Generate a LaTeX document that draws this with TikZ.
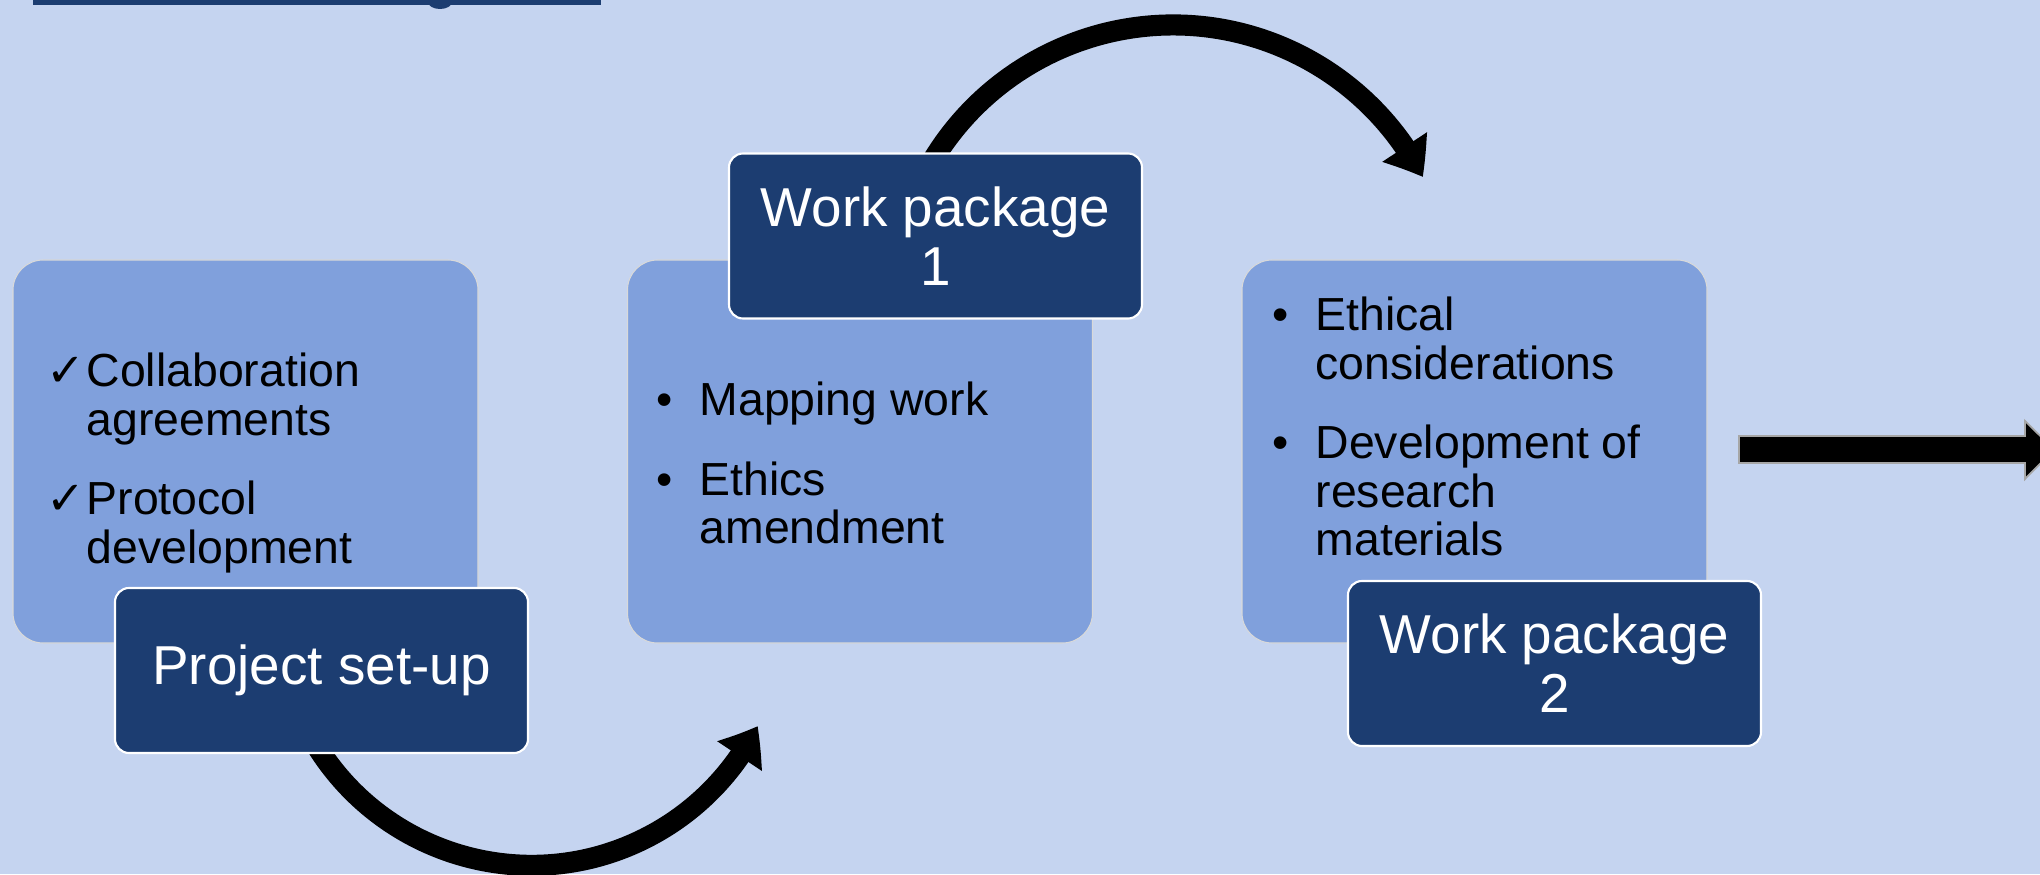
\documentclass[tikz,border=0pt]{standalone}
\usepackage{fontspec}
\setmainfont{Liberation Sans}
\newfontfamily\checkfont{DejaVu Sans}
\usetikzlibrary{arrows.meta,bending}
\definecolor{fondclair}{RGB}{197,212,240}
\definecolor{boiteclaire}{RGB}{128,160,220}
\definecolor{boitefoncee}{RGB}{28,61,113}
\tikzset{
  lightbox/.style={draw=black!15, line width=0.3pt, fill=boiteclaire,
    rounded corners=0.3cm, minimum width=4.65cm, minimum height=3.83cm},
  darkbox/.style={draw=white, line width=0.6pt, fill=boitefoncee,
    rounded corners=0.14cm, minimum width=4.13cm, minimum height=1.65cm,
    text=white, align=center, font=\fontsize{15.6}{16.8}\selectfont},
  itemtext/.style={anchor=base west, inner sep=0pt, font=\fontsize{13.2}{13.7}\selectfont},
  flowarc/.style={line width=6pt, -{Triangle[width=14.6pt,length=10pt,bend]}},
}
\begin{document}
\begin{tikzpicture}  % ------ Phases du projet -----------
\useasboundingbox (0,0) rectangle (20.40,8.74);
    \fill[fondclair] (0,0) rectangle (20.40,8.74);
    \fill[boitefoncee] (0.33,8.69) rectangle (6.01,8.80);  % bandeau du titre
    \fill[boitefoncee] (4.40,8.72) ellipse [x radius=0.12, y radius=0.07];
    % grandes boites
    \node[lightbox] (setup) at (2.455,4.225) {};
    \node[lightbox] (wp1) at (8.60,4.225) {};
    \node[lightbox] (wp2) at (14.745,4.225) {};
    \node[itemtext] (setuptxt) at (0.46,4.87) {\begin{tabular}[t]{@{}p{0.40cm}@{}l@{}}
      \checkfont ✓ & Collaboration\\ & agreements\\[9pt]
      \checkfont ✓ & Protocol\\ & development\end{tabular}};
    \node[itemtext] (wp1txt) at (6.56,4.585) {\begin{tabular}[t]{@{}p{0.43cm}@{}l@{}}
      \textbullet & Mapping work\\[9pt]
      \textbullet & Ethics\\ & amendment\end{tabular}};
    \node[itemtext] (wp2txt) at (12.72,5.43) {\begin{tabular}[t]{@{}p{0.43cm}@{}l@{}}
      \textbullet & Ethical\\ & considerations\\[9pt]
      \textbullet & Development of\\ & research\\ & materials\end{tabular}};
    % fleches courbes
    \coordinate (c1) at (5.315,2.617); % centre arc du bas
    \coordinate (c2) at (11.73,5.68);  % centre arc du haut
    \draw[flowarc] ([shift={(208:2.53)}]c1) arc [start angle=208, end angle=333.3, radius=2.53];
    \draw[flowarc] ([shift={(154:2.81)}]c2) arc [start angle=154, end angle=27.3, radius=2.81];
    % titres
    \node[darkbox] (setuphead) at (3.215,2.035) {Project set-up};
    \node[darkbox] (wp1head) at (9.355,6.38) {Work package\\1};
    \node[darkbox] (wp2head) at (15.545,2.105) {Work package\\2};
    % fleche vers la suite
    \coordinate (flecheA) at (17.39,4.245);
    \coordinate (flecheB) at (20.54,4.245);
    \filldraw[fill=black, draw=black!35, line width=0.5pt] (flecheA) ++(0,0.135) -- ++(2.86,0)
      -- ++(0,0.15) -- (flecheB) -- ++(-0.29,-0.295) -- ++(0,0.16) -- ++(-2.86,0) -- cycle;
\end{tikzpicture}
\end{document}
